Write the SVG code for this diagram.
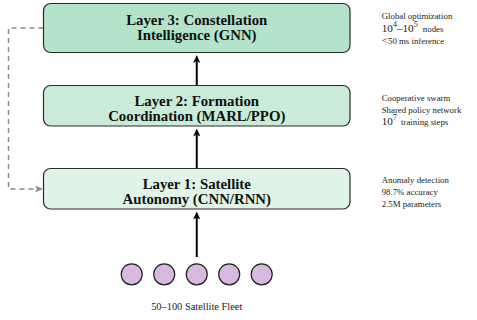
<svg xmlns="http://www.w3.org/2000/svg" width="477" height="320" viewBox="0 0 477 320">
<defs>
<style>
.box{stroke:#2b2b2b;stroke-width:1.2}
.title{font-family:"Liberation Serif","Times New Roman",serif;font-weight:bold;font-size:14.8px;fill:#111;text-anchor:middle}
.side{font-family:"Liberation Serif","Times New Roman",serif;font-size:8.8px;fill:#222}
.math{font-size:11.2px}
.sup{font-size:8px}
.flow{stroke:#000;stroke-width:2;fill:none}
.fb{stroke:#8c8c8c;stroke-width:1.5;fill:none;stroke-dasharray:5 4}
.sat{fill:#d8b9e1;stroke:#222;stroke-width:1.2}
.cap{font-family:"Liberation Serif","Times New Roman",serif;font-size:10.4px;fill:#222;text-anchor:middle}
</style>
<marker id="ah" markerUnits="userSpaceOnUse" markerWidth="12" markerHeight="12" viewBox="-6 -6 12 12" refX="0" refY="0" orient="auto">
<path d="M4,0 L-4,-3.6 L-2,0 L-4,3.6 Z" fill="#000"/>
</marker>
<marker id="ahg" markerUnits="userSpaceOnUse" markerWidth="12" markerHeight="12" viewBox="-6 -6 12 12" refX="0" refY="0" orient="auto">
<path d="M4,0 L-4,-3.6 L-2,0 L-4,3.6 Z" fill="#8c8c8c"/>
</marker>
</defs>
<rect width="477" height="320" fill="#fff"/>

<g id="connectors">
<line class="flow" x1="196.75" y1="85.5" x2="196.75" y2="59" marker-end="url(#ah)"/>
<line class="flow" x1="196.75" y1="168.5" x2="196.75" y2="132.5" marker-end="url(#ah)"/>
<line class="flow" x1="196.75" y1="257" x2="196.75" y2="215.5" marker-end="url(#ah)"/>
<path class="fb" d="M43.5,28 H8.5 V189 H39" marker-end="url(#ahg)"/>
</g>

<g id="layer3">
<rect class="box" x="43.5" y="3.5" width="306.5" height="49" rx="7" fill="#b3e3c9"/>
<text class="title" x="196.75" y="24.5">Layer 3: Constellation</text>
<text class="title" x="196.75" y="40">Intelligence (GNN)</text>
</g>
<g id="layer2">
<rect class="box" x="43.5" y="85.5" width="306.5" height="40.5" rx="7" fill="#c9ebd7"/>
<text class="title" x="196.75" y="105.5">Layer 2: Formation</text>
<text class="title" x="196.75" y="120.5">Coordination (MARL/PPO)</text>
</g>
<g id="layer1">
<rect class="box" x="43.5" y="168.5" width="306.5" height="40.5" rx="7" fill="#dff3e6"/>
<text class="title" x="196.75" y="188.5">Layer 1: Satellite</text>
<text class="title" x="196.75" y="203.5">Autonomy (CNN/RNN)</text>
</g>

<g id="note3">
<text class="side" x="381.7" y="19">Global optimization</text>
<text class="side" x="381.7" y="31.5"><tspan class="math">10</tspan><tspan class="sup" dy="-4.5">4</tspan><tspan class="math" dy="4.5">–10</tspan><tspan class="sup" dy="-4.5">5</tspan><tspan dy="4.5" dx="3"> nodes</tspan></text>
<text class="side" x="381.7" y="44"><tspan class="math">&lt;</tspan>50 ms inference</text>
</g>
<g id="note2">
<text class="side" x="381.7" y="100.5">Cooperative swarm</text>
<text class="side" x="381.7" y="112.5">Shared policy network</text>
<text class="side" x="381.7" y="124.5"><tspan class="math">10</tspan><tspan class="sup" dy="-4.5">7</tspan><tspan dy="4.5" dx="2"> training steps</tspan></text>
</g>
<g id="note1">
<text class="side" x="381.7" y="183">Anomaly detection</text>
<text class="side" x="381.7" y="195">98.7% accuracy</text>
<text class="side" x="381.7" y="207">2.5M parameters</text>
</g>

<g id="fleet">
<circle class="sat" cx="131.7" cy="274.3" r="10.5"/>
<circle class="sat" cx="164.2" cy="274.3" r="10.5"/>
<circle class="sat" cx="196.75" cy="274.3" r="10.5"/>
<circle class="sat" cx="229.2" cy="274.3" r="10.5"/>
<circle class="sat" cx="261.7" cy="274.3" r="10.5"/>
<text class="cap" x="196.75" y="310">50–100 Satellite Fleet</text>
</g>
</svg>
